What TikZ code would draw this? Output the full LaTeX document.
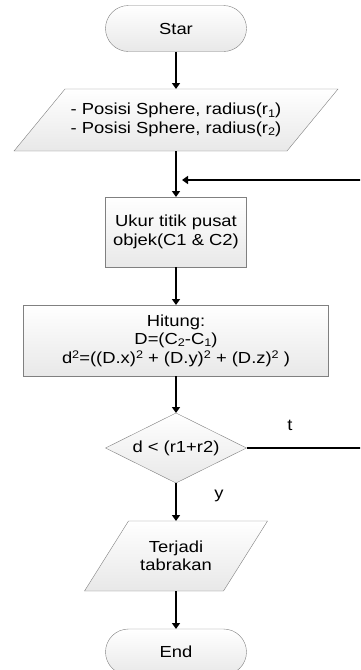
\documentclass[tikz,border=0pt]{standalone}
\usepackage{fontspec}
\setmainfont{Liberation Sans}[FakeStretch=1.15]
\usetikzlibrary{positioning,arrows.meta,shapes.geometric,backgrounds}
\newcommand{\atas}[1]{\raisebox{0.55ex}{\fontsize{11pt}{11pt}\selectfont #1}}
\newcommand{\bawah}[1]{\raisebox{-0.25ex}{\fontsize{11pt}{11pt}\selectfont #1}}
% jajaran genjang di belakang node
\newcommand{\jajar}[2]{\begin{scope}[on background layer]
\draw[blok] ([xshift=#2]#1.north west) -- (#1.north east) -- ([xshift=-#2]#1.south east) -- (#1.south west) -- cycle;
\end{scope}}

\begin{document}
\begin{tikzpicture}[>={Triangle[width=8pt,length=6pt]}, font=\fontsize{16pt}{18.5pt}\selectfont,
  blok/.style={draw=black!50, top color=white, bottom color=black!9, align=center, inner sep=2pt, outer sep=0pt},
  terminal/.style={blok, rectangle, rounded corners=23pt, minimum width=141pt, minimum height=46pt},
  proses/.style={blok, rectangle, minimum height=70pt},
  data/.style={rectangle, align=center, inner sep=2pt, outer sep=0pt},
  keputusan/.style={blok, diamond, aspect=2, minimum width=141pt, minimum height=70pt, inner sep=0pt},
  alur/.style={line width=2pt}]
\useasboundingbox (0pt,0pt) rectangle (360pt,-670pt);
\clip (0pt,0pt) rectangle (360pt,-670pt);
\draw (176.0pt, -28.5pt)node[terminal](0){Star};
\draw (176.0pt, -120.0pt)node[data, minimum width=324pt, minimum height=62pt](1){- Posisi Sphere, radius(r\bawah{1})\\- Posisi Sphere, radius(r\bawah{2})};
\jajar{1}{51pt}
\draw (176.0pt, -232.0pt)node[proses, minimum width=141pt](2){Ukur titik pusat\\objek(C1 \& C2)};
\draw (176.0pt, -340.5pt)node[proses, minimum width=305pt, minimum height=71pt](3){Hitung:\\D=(C\bawah{2}-C\bawah{1})\\d\atas{2}=((D.x)\atas{2} + (D.y)\atas{2} + (D.z)\atas{2} )};
\draw (176.0pt, -448.0pt)node[keputusan](4){d < (r1+r2)};
\draw (176.0pt, -556.0pt)node[data, minimum width=183pt, minimum height=70pt](5){Terjadi\\tabrakan};
\jajar{5}{44pt}
\draw (176.0pt, -652.0pt)node[terminal](6){End};
\draw (290.0pt, -425.0pt)node(t){t};
\draw (219.0pt, -496.0pt)node(y){y};
\coordinate (j) at (176.0pt, -180.0pt);
\path[->, alur] (0) edge (1);
\path[->, alur] (1) edge (2);
\path[->, alur] (2) edge (3);
\path[->, alur] (3) edge (4);
\path[->, alur] (4) edge (5);
\path[->, alur] (5) edge (6);
\draw[->, alur, shorten >=6pt] (4.east) -- ++(150pt,0) |- (j);
\end{tikzpicture}
\end{document}
